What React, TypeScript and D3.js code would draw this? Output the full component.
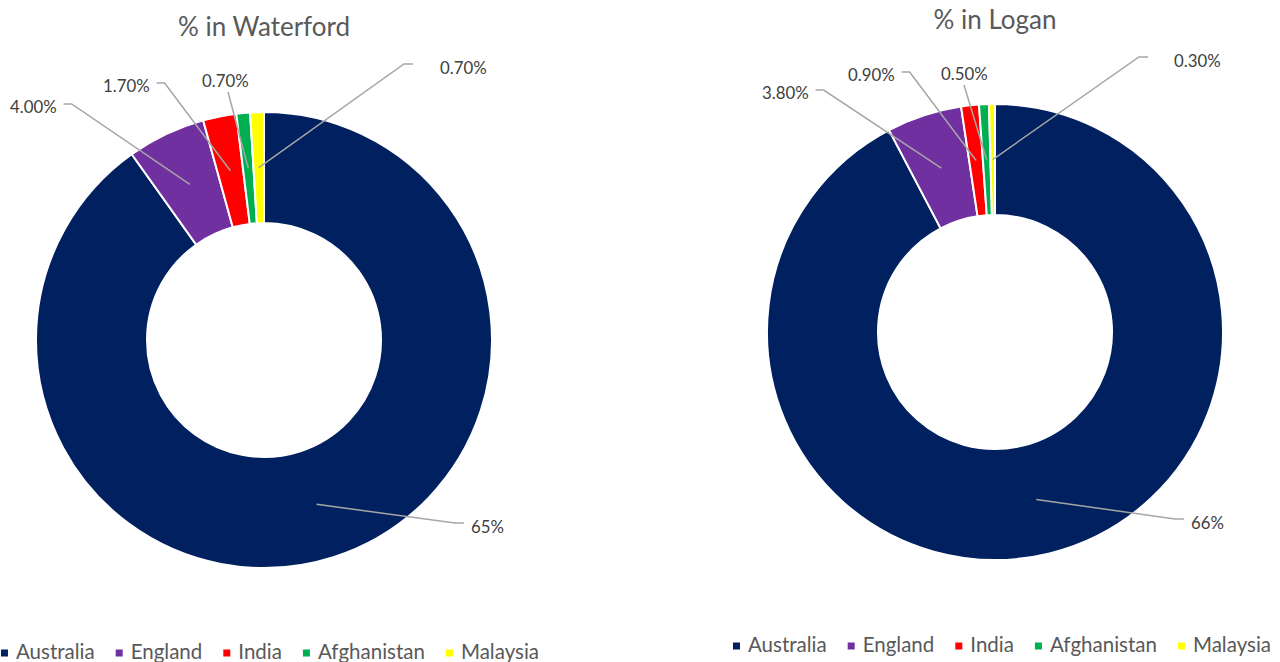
import React, { useEffect, useRef } from "react";
import * as d3 from "d3";

const countries = ["Australia", "England", "India", "Afghanistan", "Malaysia"];
const waterfordValues = [65, 4.0, 1.7, 0.7, 0.7];
const loganValues = [66, 3.8, 0.9, 0.5, 0.3];
const waterfordLabels = ["65%", "4.00%", "1.70%", "0.70%", "0.70%"];
const loganLabels = ["66%", "3.80%", "0.90%", "0.50%", "0.30%"];
const colors = ["#002060", "#7030A0", "#FF0000", "#00B050", "#FFFF00"];

const FONT = "Lato, 'Open Sans', sans-serif";

// label placement, relative to the donut centre (side: text is left / right / above the line)
const waterfordLayout = [
  { dx: 207, dy: 186, side: "r", gap: 7 },
  { dx: -254, dy: -234, side: "l", gap: 7 },
  { dx: -161, dy: -255, side: "l", gap: 7 },
  { dx: -62, dy: -260, side: "b", gap: 26 },
  { dx: 176, dy: -273, side: "r", gap: 27 },
];
const loganLayout = [
  { dx: 196, dy: 190, side: "r", gap: 7 },
  { dx: -233, dy: -240, side: "l", gap: 7 },
  { dx: -147, dy: -258, side: "l", gap: 7 },
  { dx: -54, dy: -259, side: "b", gap: 23 },
  { dx: 179, dy: -272, side: "r", gap: 26 },
];

const charts = [
  { title: "% in Waterford", values: waterfordValues, labels: waterfordLabels, layout: waterfordLayout,
    cx: 264, cy: 340, titleY: 36, legendY: 653, legendCx: 270 },
  { title: "% in Logan", values: loganValues, labels: loganLabels, layout: loganLayout,
    cx: 995, cy: 332, titleY: 29, legendY: 646, legendCx: 1002 },
];

export default function App() {
  const ref = useRef<SVGSVGElement>(null);

  useEffect(() => {
    const svg = d3.select(ref.current);
    svg.selectAll("*").remove();

    const pie = d3.pie<number>().sort(null).value((d) => d);
    const arc = d3.arc<d3.PieArcDatum<number>>().innerRadius(117).outerRadius(228);

    charts.forEach((c) => {
      const g = svg.append("g");

      g.append("text")
        .attr("x", c.cx)
        .attr("y", c.titleY)
        .attr("text-anchor", "middle")
        .style("font-family", FONT)
        .style("font-size", "26px")
        .style("fill", "#595959")
        .text(c.title);

      const arcs = pie(c.values);
      g.append("g")
        .attr("transform", `translate(${c.cx},${c.cy})`)
        .selectAll("path")
        .data(arcs)
        .join("path")
        .attr("d", arc)
        .attr("fill", (d, i) => colors[i])
        .attr("stroke", "#fff")
        .attr("stroke-width", 2);

      // data labels with leader lines
      const lines = g.append("g");
      arcs.forEach((a, i) => {
        const lay = c.layout[i];
        const [px, py] = arc.centroid(a);
        const sx = c.cx + px, sy = c.cy + py;
        const tx = c.cx + lay.dx, ty = c.cy + lay.dy;
        const t = g.append("text")
          .attr("x", tx)
          .attr("y", ty)
          .attr("dominant-baseline", "central")
          .style("font-family", FONT)
          .style("font-size", "16.8px")
          .style("fill", "#404040")
          .text(c.labels[i]);
        const w = (t.node() as SVGTextElement).getComputedTextLength();
        let pts: [number, number][];
        if (lay.side === "l") {
          const ex = tx + w + lay.gap, ey = ty - 2;
          pts = [[sx, sy], [ex + 8, ey], [ex, ey]];
        } else if (lay.side === "r") {
          const ex = tx - lay.gap, ey = ty - 3;
          pts = [[sx, sy], [ex - 9, ey], [ex, ey]];
        } else {
          pts = [[sx, sy], [tx + lay.gap, ty + 12]];
        }
        lines.append("path")
          .attr("d", d3.line()(pts))
          .attr("fill", "none")
          .attr("stroke", "#A6A6A6")
          .attr("stroke-width", 1.5);
      });

      // legend
      const lg = g.append("g");
      let x = 0;
      countries.forEach((name, i) => {
        const t = lg.append("text")
          .attr("x", x + 15)
          .attr("y", c.legendY + 6)
          .style("font-family", FONT)
          .style("font-size", "20.5px")
          .style("fill", "#595959")
          .text(name);
        const tw = (t.node() as SVGTextElement).getComputedTextLength();
        lg.append("rect")
          .attr("x", x)
          .attr("y", c.legendY - 3.5)
          .attr("width", 7)
          .attr("height", 7)
          .attr("fill", colors[i]);
        x += 15 + tw + 21;
      });
      const total = x - 21;
      lg.attr("transform", `translate(${c.legendCx - total / 2},0)`);
    });
  }, []);

  return (
    <svg ref={ref} width={1280} height={662}
      style={{ position: "absolute", left: 0, top: 0, background: "#fff" }} />
  );
}
